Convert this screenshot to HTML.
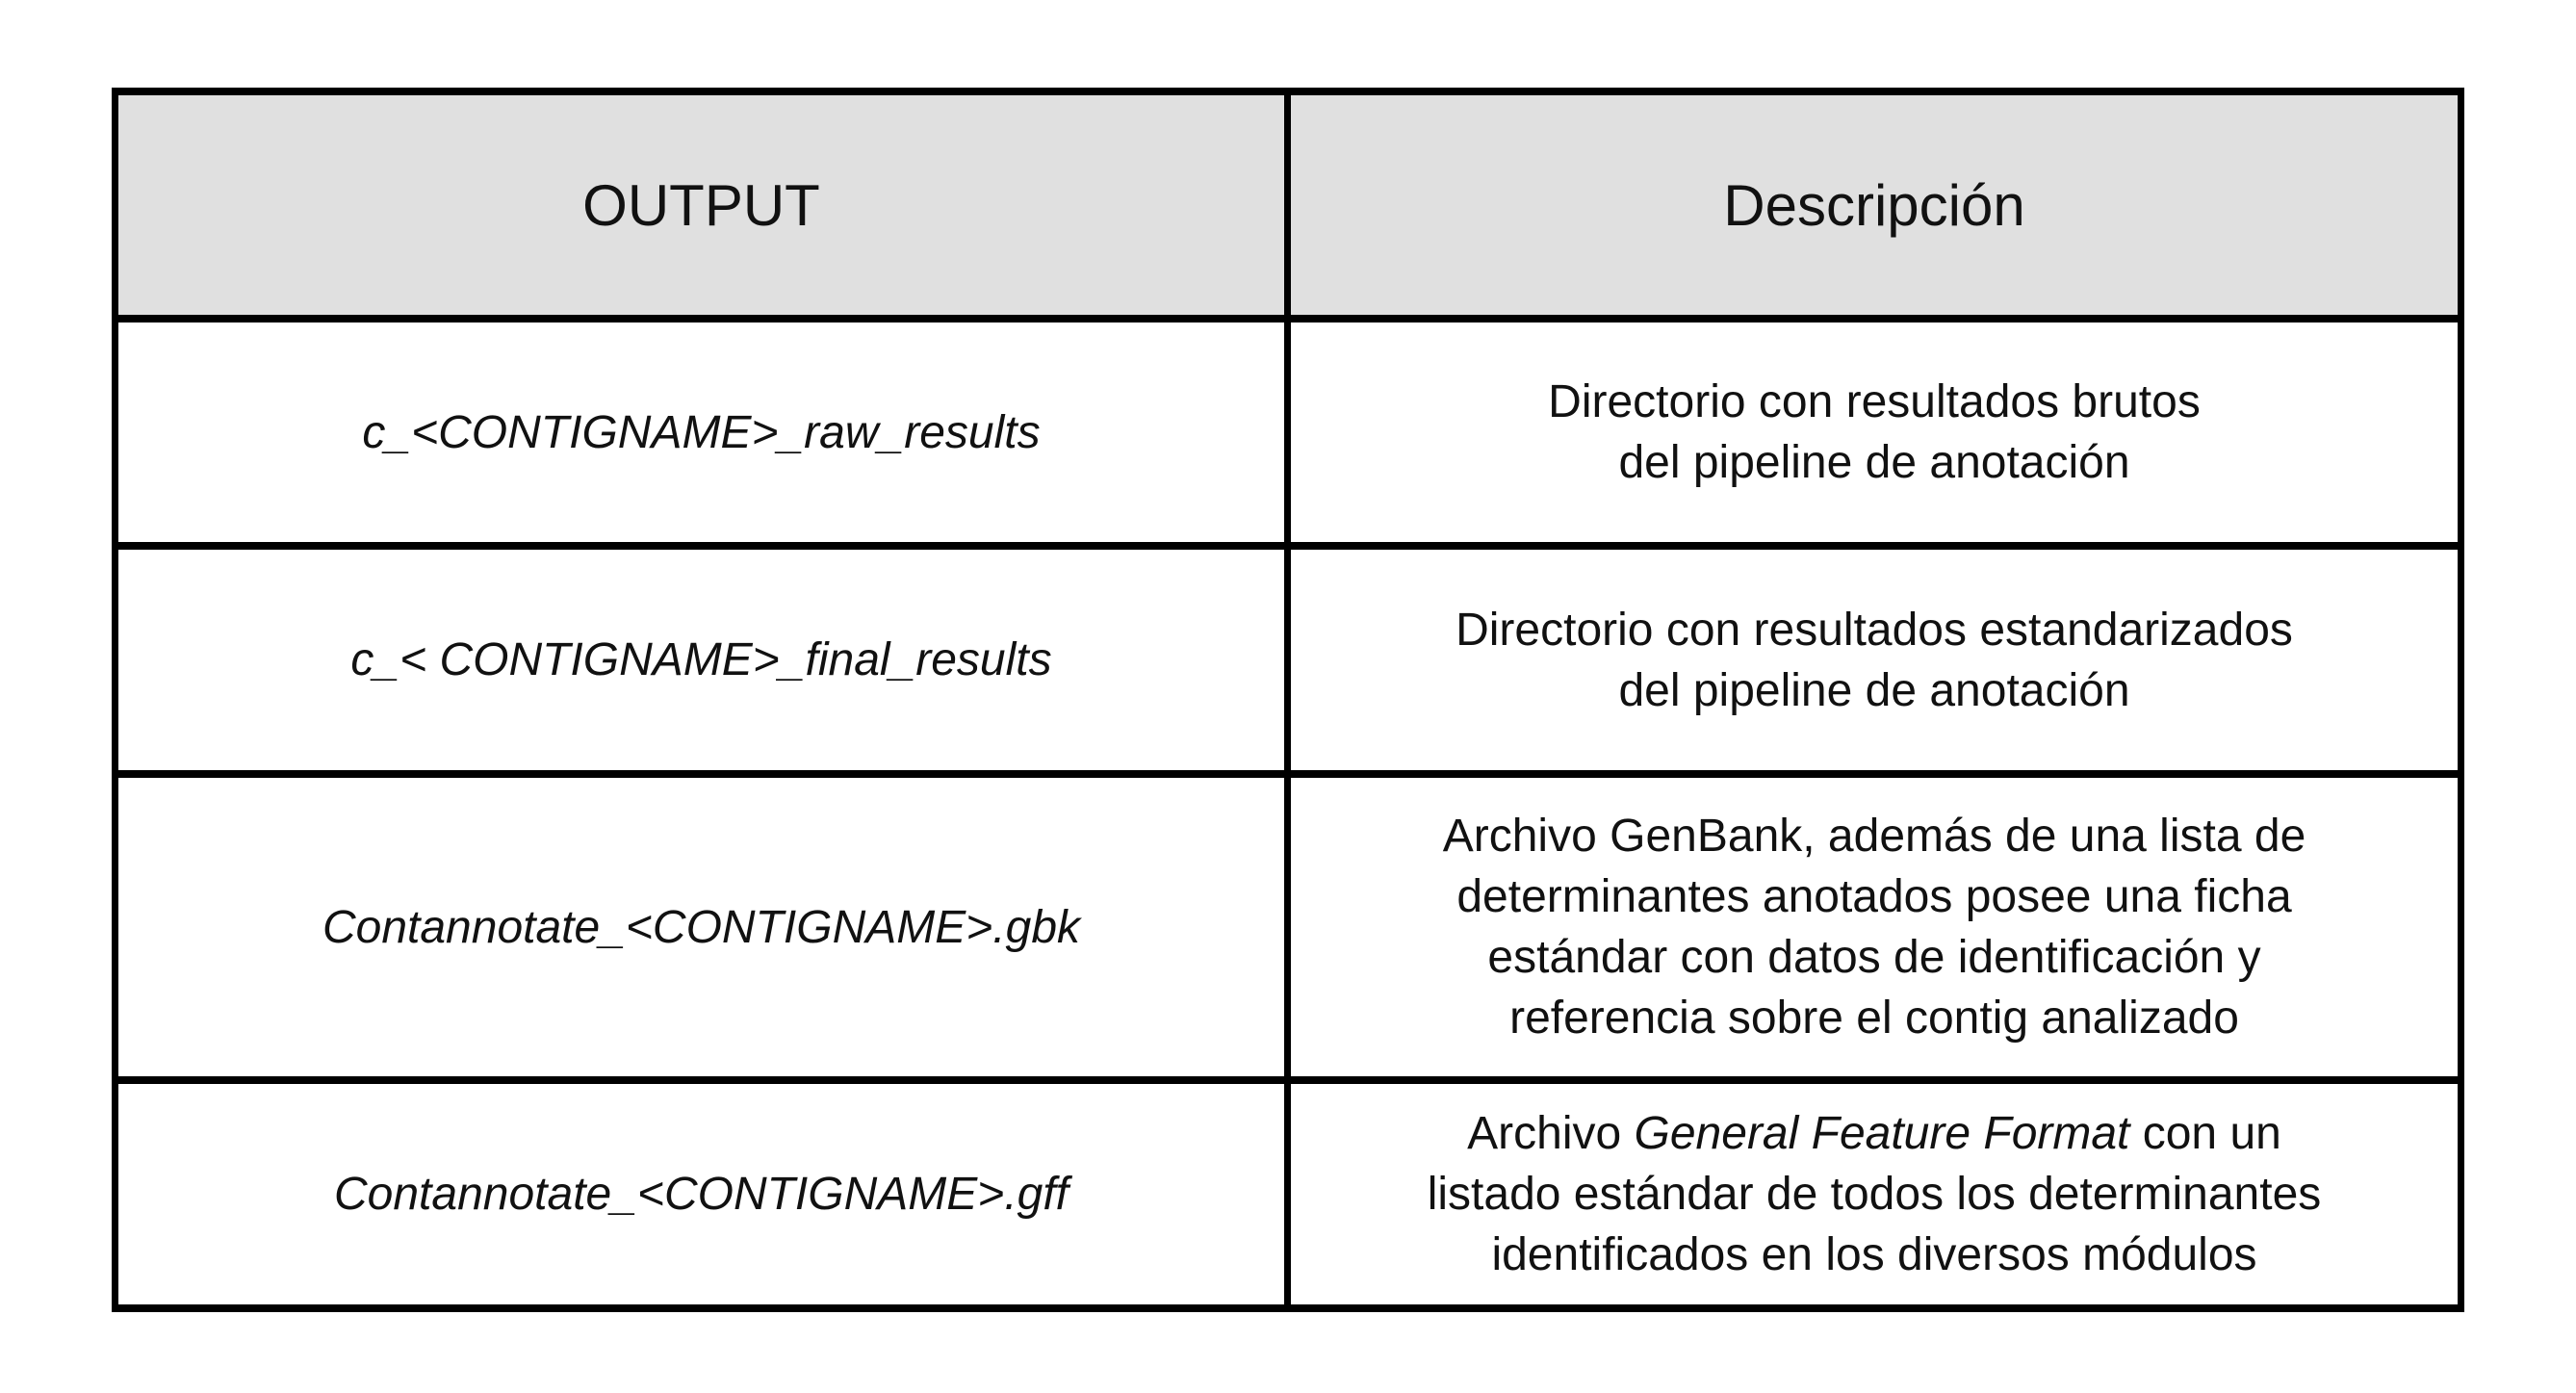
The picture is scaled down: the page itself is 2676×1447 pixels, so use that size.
<!DOCTYPE html>
<html><head><meta charset="utf-8"><style>
html,body{margin:0;padding:0;background:#fff;width:2676px;height:1447px;overflow:hidden}
.l{position:absolute;background:#000}
.c{position:absolute;display:flex;align-items:center;justify-content:center;text-align:center;font-family:"Liberation Sans",sans-serif;font-size:48px;line-height:63px;color:#111}
.i{font-style:italic}
</style></head><body>
<div style="position:absolute;left:120px;top:95px;width:2436px;height:236px;background:#e0e0e0"></div>
<div class="l" style="left:116px;top:91px;width:2444px;height:8px"></div>
<div class="l" style="left:116px;top:327px;width:2444px;height:8px"></div>
<div class="l" style="left:116px;top:563px;width:2444px;height:8px"></div>
<div class="l" style="left:116px;top:800px;width:2444px;height:8px"></div>
<div class="l" style="left:116px;top:1118px;width:2444px;height:8px"></div>
<div class="l" style="left:116px;top:1355px;width:2444px;height:8px"></div>
<div class="l" style="left:116px;top:91px;width:7px;height:1272px"></div>
<div class="l" style="left:1334px;top:91px;width:7px;height:1272px"></div>
<div class="l" style="left:2553px;top:91px;width:7px;height:1272px"></div>

<div class="c" style="left:123px;top:99px;width:1211px;height:228px;font-size:60px"><div>OUTPUT</div></div>
<div class="c" style="left:1341px;top:99px;width:1212px;height:228px;font-size:60px"><div>Descripción</div></div>

<div class="c i" style="left:123px;top:335px;width:1211px;height:228px"><div>c_&lt;CONTIGNAME&gt;_raw_results</div></div>
<div class="c" style="left:1341px;top:335px;width:1212px;height:228px"><div>Directorio con resultados brutos<br>del pipeline de anotación</div></div>

<div class="c i" style="left:123px;top:571px;width:1211px;height:229px"><div>c_&lt; CONTIGNAME&gt;_final_results</div></div>
<div class="c" style="left:1341px;top:571px;width:1212px;height:229px"><div>Directorio con resultados estandarizados<br>del pipeline de anotación</div></div>

<div class="c i" style="left:123px;top:808px;width:1211px;height:310px"><div>Contannotate_&lt;CONTIGNAME&gt;.gbk</div></div>
<div class="c" style="left:1341px;top:808px;width:1212px;height:310px"><div>Archivo GenBank, además de una lista de<br>determinantes anotados posee una ficha<br>estándar con datos de identificación y<br>referencia sobre el contig analizado</div></div>

<div class="c i" style="left:123px;top:1126px;width:1211px;height:229px"><div>Contannotate_&lt;CONTIGNAME&gt;.gff</div></div>
<div class="c" style="left:1341px;top:1126px;width:1212px;height:229px"><div style="white-space:nowrap">Archivo <i>General Feature Format</i> con un<br>listado estándar de todos los determinantes<br>identificados en los diversos módulos</div></div>
</body></html>
